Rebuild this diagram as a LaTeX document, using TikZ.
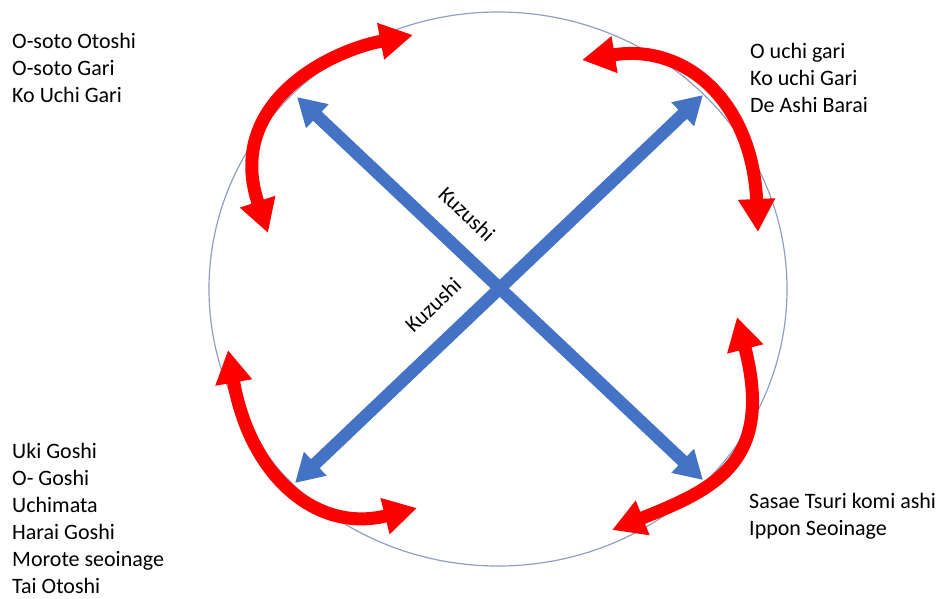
\documentclass[tikz,border=0pt]{standalone}
\usepackage{fontspec}
\setmainfont{Carlito}
\usetikzlibrary{arrows.meta,shapes.geometric}
\definecolor{kred}{HTML}{FF0000}
\definecolor{kblue}{HTML}{4472C4}
\definecolor{kring}{HTML}{8EA0C2}
\begin{document}
\begin{tikzpicture}[x=1pt,y=1pt,
  redarc/.style={draw=kred, line width=13pt,
    {Triangle[length=33pt,width=35pt]}-{Triangle[length=33pt,width=35pt]}},
  bluearr/.style={draw=kblue, line width=12.5pt,
    {Triangle[length=28pt,width=31pt]}-{Triangle[length=28pt,width=31pt]}},
  lbl/.style={font=\fontsize{22}{27}\selectfont, inner sep=0pt, anchor=base west},
  kz/.style={font=\fontsize{22}{27}\selectfont, inner sep=0pt}]
\useasboundingbox (0,0) rectangle (945,-598);
% circle
\node[draw=kring, line width=1.2pt, ellipse, minimum width=578pt, minimum height=554pt, inner sep=0pt] (ring) at (498,-289) {};
% technique lists
\node[lbl] (tl) at (12,-48) {\begin{tabular}[t]{@{}l@{}}O-soto Otoshi\\O-soto Gari\\Ko Uchi Gari\end{tabular}};
\node[lbl] (tr) at (750,-58) {\begin{tabular}[t]{@{}l@{}}O uchi gari\\Ko uchi Gari\\De Ashi Barai\end{tabular}};
\node[lbl] (bl) at (12,-458) {\begin{tabular}[t]{@{}l@{}}Uki Goshi\\O- Goshi\\Uchimata\\Harai Goshi\\Morote seoinage\\Tai Otoshi\end{tabular}};
\node[lbl] (br) at (749,-508) {\begin{tabular}[t]{@{}l@{}}Sasae Tsuri komi ashi\\Ippon Seoinage\end{tabular}};
% kuzushi arrows
\coordinate (b1) at (297,-97);
\coordinate (b2) at (703,-480);
\coordinate (b3) at (295,-483);
\coordinate (b4) at (703,-95);
\draw[bluearr] (b1) -- (b2);
\draw[bluearr] (b3) -- (b4);
\node[kz, rotate=-43.3] (k1) at (467,-214) {Kuzushi};
\node[kz, rotate=43.6] (k2) at (433,-305) {Kuzushi};
% red arcs
\coordinate (r1a) at (268,-233);
\coordinate (r1b) at (413,-35);
\coordinate (r2a) at (582,-60);
\coordinate (r2b) at (758,-232);
\coordinate (r3a) at (228,-350);
\coordinate (r3b) at (417,-508);
\coordinate (r4a) at (737,-317);
\coordinate (r4b) at (612,-530);
\draw[redarc] (r1a) .. controls (225.2,-104.3) and (326.6,-51.7) .. (r1b);
\draw[redarc] (r2a) .. controls (686.2,-42.9) and (752.4,-102.4) .. (r2b);
\draw[redarc] (r3a) .. controls (250,-475) and (315.6,-533.7) .. (r3b);
\draw[redarc] (r4a) .. controls (774.5,-462.2) and (714.3,-489.3) .. (r4b);
\end{tikzpicture}
\end{document}
